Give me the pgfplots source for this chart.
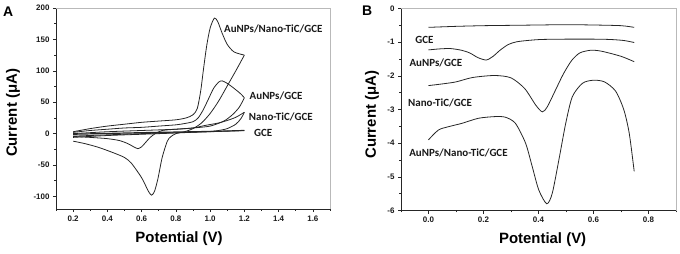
\documentclass[border=0pt]{standalone}
\usepackage{fontspec}
\setmainfont{Liberation Sans}
\newfontfamily\lblfont{Carlito}
\usepackage{pgfplots}
\pgfplotsset{compat=1.18}
\begin{document}
\begin{tikzpicture}
\useasboundingbox (-56bp,-45bp) rectangle (624bp,209bp);
\tikzset{lbl/.style={font=\lblfont\bfseries\fontsize{11}{12}\selectfont, black!90}}
\pgfplotsset{
  myax/.style={
    scale only axis,
    axis lines=left,
    clip=false,
    axis line style={-, line width=0.7pt, black!85},
    tick align=outside,
    major tick length=3bp, minor tick length=1.8bp,
    every tick/.style={line width=0.6pt, black!85},
    tick label style={font=\bfseries\fontsize{8}{9}\selectfont, black!90},
    /pgf/number format/assume math mode=true,
    label style={font=\bfseries\fontsize{15}{16}\selectfont},
    cycle list={black!85, line width=0.8pt, solid, smooth, tension=0.45\\},
    no markers,
  },
}
% ---------- Panel A ----------
\begin{axis}[myax,
  width=274bp, height=201bp,
  xmin=0.1, xmax=1.7, ymin=-120, ymax=200,
  xtick={0.2,0.4,0.6,0.8,1.0,1.2,1.4,1.6},
  minor xtick={0.1,0.3,0.5,0.7,0.9,1.1,1.3,1.5,1.7},
  ytick={-100,-50,0,50,100,150,200},
  minor ytick={-125,-75,-25,25,75,125,175},
  xticklabel style={/pgf/number format/.cd, fixed, fixed zerofill, precision=1},
  xlabel={Potential (V)}, ylabel={Current (μA)},
  xlabel style={at={(axis description cs:0.449,-0.146)}, anchor=center},
  ylabel style={at={(axis description cs:-0.157,0.478)}, anchor=center},
]
\draw[gray!55, line width=0.6pt] (rel axis cs:0,1) -- (rel axis cs:1,1) -- (rel axis cs:1,0);
% AuNPs/Nano-TiC/GCE forward
\addplot coordinates {(0.2,3) (0.3,8) (0.4,12) (0.5,15) (0.6,18) (0.7,20) (0.8,22) (0.86,25) (0.9,30) (0.925,40) (0.945,68) (0.96,100) (0.98,140) (1.0,168) (1.025,184) (1.045,178) (1.07,160) (1.1,142) (1.14,130) (1.2,125)};
% reverse
\addplot coordinates {(1.2,125) (1.15,100) (1.1,76) (1.05,52) (1.0,32) (0.95,17) (0.9,8) (0.85,3) (0.8,0) (0.77,-5) (0.75,-12) (0.72,-38) (0.695,-72) (0.675,-92) (0.658,-98) (0.64,-92) (0.615,-78) (0.595,-68) (0.54,-47) (0.5,-38) (0.44,-31) (0.35,-22) (0.27,-16) (0.2,-12)};
% AuNPs/GCE
\addplot coordinates {(0.2,2) (0.3,5) (0.4,7) (0.5,9) (0.6,10) (0.7,12) (0.8,14) (0.85,16) (0.9,19) (0.93,25) (0.96,38) (0.99,55) (1.02,72) (1.05,82) (1.07,84) (1.1,80) (1.14,72) (1.18,63) (1.2,57)};
\addplot coordinates {(1.2,57) (1.17,42) (1.13,30) (1.08,20) (1.0,12) (0.9,9) (0.8,7) (0.72,5) (0.68,0) (0.65,-6) (0.62,-15) (0.6,-21) (0.578,-24) (0.56,-22) (0.52,-16) (0.47,-11) (0.4,-8) (0.3,-6) (0.2,-4.5)};
% Nano-TiC/GCE
\addplot coordinates {(0.2,0) (0.4,3) (0.6,5) (0.8,7) (0.9,9) (0.97,13) (1.05,17) (1.1,21) (1.15,26) (1.2,34)};
\addplot coordinates {(1.2,34) (1.18,24) (1.15,15) (1.1,8) (1.05,5) (1.0,3.5) (0.8,1) (0.6,-1) (0.4,-3) (0.2,-6)};
% GCE
\addplot+[line width=1.2pt] coordinates {(0.2,-1) (0.6,1.5) (1.0,3.5) (1.2,5)};
\addplot coordinates {(1.2,5) (1.0,3) (0.6,0) (0.2,-4)};
\node[lbl] at (axis cs:1.369,166.6) {AuNPs/Nano-TiC/GCE};
\node[lbl] at (axis cs:1.385,60) {AuNPs/GCE};
\node[lbl] at (axis cs:1.413,26.4) {Nano-TiC/GCE};
\node[lbl] at (axis cs:1.31,1) {GCE};
\end{axis}
% ---------- Panel B ----------
\begin{axis}[myax, at={(345bp,-1.5bp)},
  width=275bp, height=202bp,
  xmin=-0.1, xmax=0.9, ymin=-6, ymax=0,
  xtick={0,0.2,0.4,0.6,0.8},
  minor xtick={-0.1,0.1,0.3,0.5,0.7,0.9},
  ytick={-6,-5,-4,-3,-2,-1,0},
  minor ytick={-5.5,-4.5,-3.5,-2.5,-1.5,-0.5},
  xticklabel style={/pgf/number format/.cd, fixed, fixed zerofill, precision=1},
  xlabel={Potential (V)}, ylabel={Current (μA)},
  xlabel style={at={(axis description cs:0.515,-0.146)}, anchor=center},
  ylabel style={at={(axis description cs:-0.105,0.474)}, anchor=center},
]
\draw[gray!55, line width=0.6pt] (rel axis cs:0,1) -- (rel axis cs:1,1) -- (rel axis cs:1,0);
% GCE
\addplot coordinates {(0,-0.56) (0.1,-0.53) (0.2,-0.51) (0.3,-0.50) (0.4,-0.49) (0.5,-0.48) (0.6,-0.49) (0.7,-0.51) (0.748,-0.56)};
% AuNPs/GCE
\addplot coordinates {(0,-1.23) (0.04,-1.2) (0.08,-1.19) (0.12,-1.24) (0.15,-1.32) (0.18,-1.46) (0.21,-1.53) (0.235,-1.42) (0.26,-1.24) (0.29,-1.07) (0.32,-0.99) (0.36,-0.95) (0.41,-0.92) (0.5,-0.91) (0.6,-0.91) (0.66,-0.92) (0.71,-0.95) (0.748,-1.01)};
% Nano-TiC/GCE
\addplot coordinates {(0,-2.29) (0.05,-2.24) (0.1,-2.18) (0.16,-2.05) (0.24,-1.99) (0.3,-2.06) (0.35,-2.38) (0.39,-2.87) (0.414,-3.07) (0.432,-2.92) (0.462,-2.42) (0.49,-1.95) (0.52,-1.55) (0.55,-1.32) (0.59,-1.24) (0.63,-1.27) (0.7,-1.42) (0.748,-1.58)};
% AuNPs/Nano-TiC/GCE
\addplot coordinates {(0,-3.90) (0.036,-3.61) (0.073,-3.51) (0.122,-3.41) (0.182,-3.26) (0.243,-3.21) (0.28,-3.23) (0.316,-3.41) (0.353,-4.0) (0.377,-4.69) (0.401,-5.39) (0.43,-5.8) (0.45,-5.49) (0.474,-4.5) (0.499,-3.41) (0.523,-2.62) (0.56,-2.22) (0.6,-2.13) (0.64,-2.18) (0.68,-2.45) (0.71,-3.0) (0.73,-3.71) (0.748,-4.84)};
\node[lbl] at (axis cs:-0.015,-0.92) {GCE};
\node[lbl] at (axis cs:0.027,-1.61) {AuNPs/GCE};
\node[lbl] at (axis cs:0.042,-2.80) {Nano-TiC/GCE};
\node[lbl] at (axis cs:0.109,-4.28) {AuNPs/Nano-TiC/GCE};
\end{axis}
\node[anchor=north west, inner sep=0pt, font=\bfseries\fontsize{14}{14}\selectfont] at (-53bp,202bp) {A};
\node[anchor=north west, inner sep=0pt, font=\bfseries\fontsize{14}{14}\selectfont] at (306bp,203bp) {B};
\end{tikzpicture}
\end{document}
